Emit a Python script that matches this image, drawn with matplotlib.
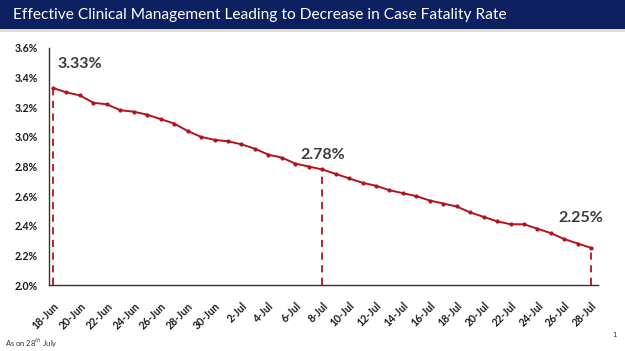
import matplotlib
matplotlib.use("Agg")
import matplotlib.pyplot as plt
from matplotlib.patches import Rectangle

dates = ["18-Jun", "19-Jun", "20-Jun", "21-Jun", "22-Jun", "23-Jun", "24-Jun", "25-Jun",
         "26-Jun", "27-Jun", "28-Jun", "29-Jun", "30-Jun", "1-Jul", "2-Jul", "3-Jul",
         "4-Jul", "5-Jul", "6-Jul", "7-Jul", "8-Jul", "9-Jul", "10-Jul", "11-Jul",
         "12-Jul", "13-Jul", "14-Jul", "15-Jul", "16-Jul", "17-Jul", "18-Jul", "19-Jul",
         "20-Jul", "21-Jul", "22-Jul", "23-Jul", "24-Jul", "25-Jul", "26-Jul", "27-Jul",
         "28-Jul"]
cfr = [3.33, 3.30, 3.28, 3.23, 3.22, 3.18, 3.17, 3.15, 3.12, 3.09, 3.04, 3.00, 2.98,
       2.97, 2.95, 2.92, 2.88, 2.86, 2.82, 2.80, 2.78, 2.75, 2.72, 2.69, 2.67, 2.64,
       2.62, 2.60, 2.57, 2.55, 2.53, 2.49, 2.46, 2.43, 2.41, 2.41, 2.38, 2.35, 2.31,
       2.28, 2.25]
highlight_idx = [0, 20, 40]
highlight_labels = ["3.33%", "2.78%", "2.25%"]
yticks = [2.0, 2.2, 2.4, 2.6, 2.8, 3.0, 3.2, 3.4, 3.6]
title = "Effective Clinical Management Leading to Decrease in Case Fatality Rate"

W, H = 625, 351
fig = plt.figure(figsize=(W / 100, H / 100), dpi=100)

# title banner
fig.patches.append(Rectangle((0, 1 - 29 / H), 1, 29 / H, transform=fig.transFigure,
                             facecolor="#0c1f5e", edgecolor="none", zorder=0))
fig.patches.append(Rectangle((0, 1 - 32 / H), 1, 3 / H, transform=fig.transFigure,
                             facecolor="#e8dcc4", edgecolor="none", zorder=0))
fig.text(13 / W, 1 - 15 / H, title, color="white", fontsize=11.2, family="Lato",
         ha="left", va="center")

ax = fig.add_axes([49 / W, 1 - 285 / H, (598 - 49) / W, (285 - 48) / H])
x = list(range(len(dates)))
ax.plot(x, cfr, color="#b3121f", lw=1.4, marker="o", ms=2.0, zorder=3)

for i, lab, dx, dy in zip(highlight_idx, highlight_labels,
                          [0.3, -1.6, -2.45], [0.16, 0.10, 0.20]):
    ax.plot([x[i], x[i]], [2.0, cfr[i]], color="#b3121f", lw=1.3,
            ls=(0, (4, 3)), zorder=2)
    ax.text(x[i] + dx, cfr[i] + dy, lab, fontsize=11.5, fontweight="bold",
            color="#3a3a3a", family="Lato", ha="left", va="center")

ax.set_xlim(-0.3, 40.5)
ax.set_ylim(2.0, 3.6)
ax.set_yticks(yticks)
ax.set_yticklabels([f"{v:.1f}%" for v in yticks])
ax.set_xticks(x[::2])
ax.set_xticklabels(dates[::2], rotation=45, ha="right", rotation_mode="anchor")
ax.tick_params(length=0, pad=8, labelsize=7.6, colors="#1a1a1a")
ax.tick_params(axis="x", pad=11)
for lab in ax.get_xticklabels() + ax.get_yticklabels():
    lab.set_fontweight("bold")
    lab.set_family("Lato")
for s in ["top", "right"]:
    ax.spines[s].set_visible(False)
for s in ["left", "bottom"]:
    ax.spines[s].set_color("#333333")
    ax.spines[s].set_linewidth(1.0)

fig.text(5 / W, 1 - 343 / H, "As on 28$^{th}$ July", fontsize=5.5, color="#333333",
         family="Lato", ha="left", va="center")
fig.text(612 / W, 1 - 335 / H, "1", fontsize=5, color="#333333", ha="left", va="center")

fig.savefig("out.png", dpi=100)
